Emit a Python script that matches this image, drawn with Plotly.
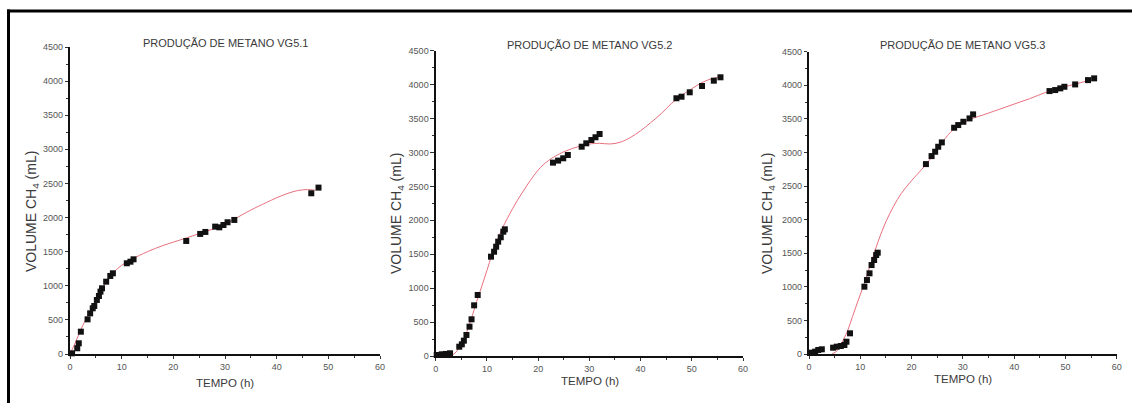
import plotly.graph_objects as go

W, H = 1132, 403

# ---------------- data ----------------
# VG5.1 measured points
x1 = [0.4, 1.4, 1.7, 2.1, 3.4, 3.9, 4.4, 4.7, 5.2, 5.6, 5.9, 6.2, 7.0, 7.8, 8.3,
      11.0, 11.7, 12.3, 22.5, 25.2, 26.2, 28.1, 28.9, 29.7, 30.5, 31.8, 46.7, 48.1]
y1 = [10, 84, 157, 327, 508, 596, 670, 704, 792, 850, 914, 963, 1060, 1144, 1183,
      1330, 1353, 1388, 1657, 1760, 1789, 1867, 1857, 1891, 1931, 1965, 2356, 2439]
# VG5.1 fitted curve
fx1 = [0, 1, 2, 3, 4, 5, 6, 7, 8, 10, 12, 15, 18, 20, 22.5, 25, 28, 30, 32, 35,
       38, 40, 42, 44, 46, 47.5]
fy1 = [0, 160, 340, 500, 640, 790, 930, 1050, 1160, 1300, 1390, 1500, 1590, 1640,
       1700, 1765, 1840, 1900, 1985, 2110, 2220, 2290, 2350, 2395, 2410, 2400]

# VG5.2 measured points
x2 = [0.2, 1.2, 2.0, 2.8, 4.6, 5.1, 5.5, 6.0, 6.6, 7.0, 7.5, 8.2, 10.8, 11.4, 11.8,
      12.2, 12.7, 13.2, 13.5, 22.9, 23.9, 24.9, 25.8, 28.5, 29.4, 30.4, 31.2, 32.0,
      47.0, 48.0, 49.6, 52.0, 54.3, 55.6]
y2 = [15, 25, 30, 40, 137, 172, 226, 310, 432, 541, 747, 899, 1464, 1537, 1611,
      1685, 1750, 1832, 1867, 2850, 2880, 2914, 2963, 3085, 3135, 3184, 3224, 3272,
      3799, 3822, 3887, 3980, 4058, 4108]
fx2 = [3, 4, 5, 6, 7, 8, 9, 10, 11, 12, 13, 15, 17, 20, 22, 25, 28, 30, 32, 34, 36,
       38, 40, 42, 44, 46, 48, 50, 52, 54, 55.5]
fy2 = [0, 60, 180, 340, 560, 800, 1030, 1260, 1500, 1700, 1880, 2170, 2420, 2740,
       2880, 3010, 3090, 3125, 3135, 3125, 3150, 3220, 3320, 3440, 3570, 3720, 3840,
       3940, 4030, 4090, 4110]

# VG5.3 measured points
x3 = [0.2, 1.2, 1.8, 2.5, 4.7, 5.4, 6.2, 6.9, 7.3, 8.0, 10.8, 11.3, 11.8, 12.2,
      12.7, 13.1, 13.4, 22.8, 23.9, 24.6, 25.2, 25.9, 28.3, 29.1, 30.1, 31.3, 32.0,
      46.9, 48.0, 49.0, 49.8, 51.9, 54.4, 55.6]
y3 = [20, 35, 60, 70, 94, 109, 119, 134, 183, 308, 1002, 1101, 1201, 1324,
      1399, 1473, 1508, 2827, 2946, 3011, 3085, 3150, 3368, 3408, 3457, 3507, 3567,
      3914, 3929, 3954, 3978, 4013, 4077, 4103]
fx3 = [4.5, 5.5, 6.5, 7.5, 8.5, 9.5, 10.5, 11.5, 12.5, 13.5, 15, 16.5, 18, 20, 22,
       23, 25, 27, 28, 30, 32, 34, 37, 40, 43, 46, 48, 50, 52, 54, 55.5]
fy3 = [0, 50, 180, 340, 560, 780, 990, 1220, 1450, 1680, 1970, 2200, 2390, 2580,
       2750, 2840, 3040, 3250, 3330, 3440, 3510, 3560, 3640, 3720, 3800, 3890, 3940,
       3980, 4020, 4060, 4080]

titles = ["PRODUÇÃO DE METANO VG5.1", "PRODUÇÃO DE METANO VG5.2", "PRODUÇÃO DE METANO VG5.3"]
xtitle = "TEMPO (h)"
ytitle = "VOLUME CH<sub>4</sub> (mL)"
xticks = [0, 10, 20, 30, 40, 50, 60]
yticks = [0, 500, 1000, 1500, 2000, 2500, 3000, 3500, 4000, 4500]

# ---------------- layout geometry (pixels) ----------------
panels = [
    dict(x0=70, x1=380, yb=354, yt=47, title=(225, 43), xt=(225, 383), yt_pos=(32, 212)),
    dict(x0=435.7, x1=743, yb=356, yt=50.7, title=(589, 45), xt=(590, 381), yt_pos=(397, 214)),
    dict(x0=809, x1=1116.7, yb=354, yt=51.7, title=(962, 45), xt=(963, 379), yt_pos=(768, 214)),
]

def px(x):
    return x / W

def py(y):
    return (H - y) / H

data = [(x1, y1, fx1, fy1), (x2, y2, fx2, fy2), (x3, y3, fx3, fy3)]

fig = go.Figure()
FONT = "Liberation Sans, Arial, sans-serif"
LINE_RED = "#e8707e"

layout = dict(
    width=W, height=H,
    margin=dict(l=0, r=0, t=0, b=0),
    paper_bgcolor="white", plot_bgcolor="white",
    showlegend=False,
    template="none",
    font=dict(family=FONT, color="#555"),
)
annotations = []
for i, (p, (xs, ys, fxs, fys)) in enumerate(zip(panels, data)):
    n = "" if i == 0 else str(i + 1)
    xa, ya = "x" + n, "y" + n
    fig.add_trace(go.Scatter(x=fxs, y=fys, mode="lines", line=dict(color=LINE_RED, width=1, shape="spline", smoothing=1.0),
                             xaxis=xa, yaxis=ya, hoverinfo="skip"))
    fig.add_trace(go.Scatter(x=xs, y=ys, mode="markers",
                             marker=dict(symbol="square", size=6, color="#111"),
                             xaxis=xa, yaxis=ya, cliponaxis=False))
    common = dict(showline=True, linecolor="#111", linewidth=1.5, showgrid=False, zeroline=False,
                  ticks="outside", ticklen=3.5, tickwidth=1, tickcolor="#333",
                  tickfont=dict(size=9, color="#555", family=FONT), automargin=False, mirror=False)
    layout["xaxis" + n] = dict(common, domain=[px(p["x0"]), px(p["x1"])], range=[0, 60],
                               tickvals=xticks, anchor=ya,
                               minor=dict(tickvals=[5, 15, 25, 35, 45, 55], ticks="outside", ticklen=2, tickcolor="#333"))
    layout["yaxis" + n] = dict(common, domain=[py(p["yb"]), py(p["yt"])], range=[0, 4500],
                               tickvals=yticks, anchor=xa,
                               minor=dict(tickvals=[250 + 500 * k for k in range(9)], ticks="outside", ticklen=2, tickcolor="#333"))
    annotations.append(dict(text=titles[i], x=px(p["title"][0]), y=py(p["title"][1]), xref="paper", yref="paper",
                            showarrow=False, xanchor="center", yanchor="middle",
                            font=dict(size=11, color="#3a3a3a", family=FONT)))
    annotations.append(dict(text=xtitle, x=px(p["xt"][0]), y=py(p["xt"][1]), xref="paper", yref="paper",
                            showarrow=False, xanchor="center", yanchor="middle",
                            font=dict(size=11.5, color="#3a3a3a", family=FONT)))
    annotations.append(dict(text=ytitle, x=px(p["yt_pos"][0]), y=py(p["yt_pos"][1]), xref="paper", yref="paper",
                            showarrow=False, xanchor="center", yanchor="middle", textangle=-90,
                            font=dict(size=14, color="#3a3a3a", family=FONT)))

layout["annotations"] = annotations
layout["shapes"] = [
    dict(type="line", xref="paper", yref="paper", x0=px(7), x1=1, y0=py(11), y1=py(11),
         line=dict(color="black", width=3)),
    dict(type="line", xref="paper", yref="paper", x0=px(8.5), x1=px(8.5), y0=py(9.5), y1=0,
         line=dict(color="black", width=3)),
]
fig.update_layout(**layout)
fig.write_html("out.html", config={"displayModeBar": False},
               post_script="document.body.style.margin='0px';document.body.style.overflow='hidden';")
